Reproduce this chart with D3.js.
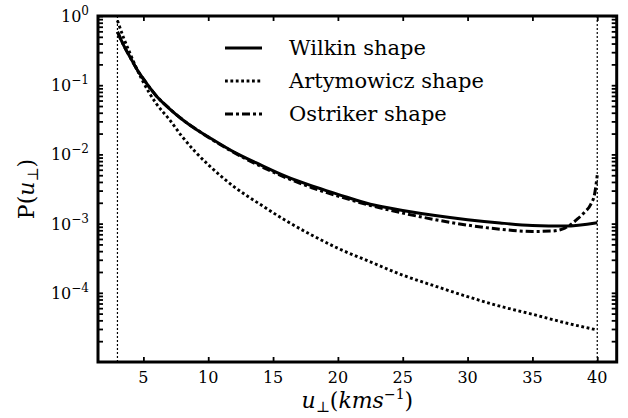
<!DOCTYPE html>
<html>
<head>
<meta charset="utf-8">
<script src="https://cdn.jsdelivr.net/npm/d3@7"></script>
<style>
body { margin: 0; background: #fff; }
text { font-family: "DejaVu Serif", serif; }
</style>
</head>
<body>
<div id="chart"></div>
<script>
// values
const uWilkin = [3, 3.5, 4, 4.5, 5, 6, 7, 8, 9, 10, 12, 14, 16, 18, 20, 22.5, 25, 27.5, 30, 32.5, 35, 37.5, 40]
const pWilkin = [0.59, 0.37, 0.25, 0.17, 0.123, 0.070, 0.046, 0.032, 0.0235, 0.018, 0.0108, 0.0071, 0.0048, 0.0035, 0.00265, 0.00190, 0.00155, 0.00131, 0.00114, 0.00102, 0.00094, 0.00092, 0.00103]

const uArty = [3, 3.5, 4, 4.5, 5, 6, 7, 8, 9, 10, 12, 14, 16, 18, 20, 22.5, 25, 27.5, 30, 32.5, 35, 37.5, 40]
const pArty = [0.86, 0.47, 0.28, 0.17, 0.11, 0.054, 0.032, 0.018, 0.0109, 0.0071, 0.0034, 0.0019, 0.0011, 0.00068, 0.00044, 0.00028, 0.00018, 0.000125, 0.000088, 0.000064, 0.000049, 0.000037, 0.000029]

const uOstr = [3, 3.5, 4, 4.5, 5, 6, 7, 8, 9, 10, 12, 14, 16, 18, 20, 22.5, 25, 27.5, 30, 32.5, 35, 36.5, 37.5, 38.5, 39, 39.5, 39.8, 40]
const pOstr = [0.59, 0.37, 0.25, 0.17, 0.123, 0.070, 0.046, 0.032, 0.0235, 0.0177, 0.0106, 0.0068, 0.0046, 0.0033, 0.0025, 0.00183, 0.00142, 0.00114, 0.00095, 0.00083, 0.00077, 0.00078, 0.00086, 0.00118, 0.00145, 0.0019, 0.0027, 0.0050]

const vLines = [3, 40]
const xTicks = [5, 10, 15, 20, 25, 30, 35, 40]
const yDecades = [0, -1, -2, -3, -4]
const legendNames = ['Wilkin shape', 'Artymowicz shape', 'Ostriker shape']

const width = 628
const height = 418
const margin = {top: 16, left: 98, right: 11.3, bottom: 56}
const plotW = width - margin.left - margin.right
const plotH = height - margin.top - margin.bottom

const svg = d3.select('#chart').append('svg')
  .attr('width', width)
  .attr('height', height)

const g = svg.append('g').attr('transform', `translate(${margin.left},${margin.top})`)

const x = d3.scaleLinear().domain([1.5, 41.5]).range([0, plotW])
const y = d3.scaleLog().domain([1e-5, 1]).range([plotH, 0])

const styles = [
  {dash: null, w: 3},
  {dash: '2.8,2.6', w: 2.9},
  {dash: '8,3,3,3', w: 3}
]

const series = [
  uWilkin.map((u, i) => [u, pWilkin[i]]),
  uArty.map((u, i) => [u, pArty[i]]),
  uOstr.map((u, i) => [u, pOstr[i]])
]

g.append('clipPath').attr('id', 'clip')
  .append('rect').attr('width', plotW).attr('height', plotH)

// vertical guide lines
g.selectAll('.vline')
  .data(vLines)
  .enter()
  .append('line')
  .attr('x1', d => x(d)).attr('x2', d => x(d))
  .attr('y1', 0).attr('y2', plotH)
  .attr('stroke', '#000')
  .attr('stroke-width', 1.2)
  .attr('stroke-dasharray', '2,2')

let line = d3.line()
  .x(d => x(d[0]))
  .y(d => y(d[1]))
  .curve(d3.curveMonotoneX)

g.append('g').attr('clip-path', 'url(#clip)')
  .selectAll('path')
  .data(series)
  .enter()
  .append('path')
  .attr('d', line)
  .attr('fill', 'none')
  .attr('stroke', '#000')
  .attr('stroke-width', (d, i) => styles[i].w)
  .attr('stroke-dasharray', (d, i) => styles[i].dash)

// minor ticks for log axis
let minor = []
for (let k = -5; k < 0; k++) {
  for (let m = 2; m <= 9; m++) minor.push(m * Math.pow(10, k))
}
let major = yDecades.map(k => Math.pow(10, k))

let tickStyle = function (sel) {
  sel.select('.domain').remove()
  sel.selectAll('line').attr('stroke', '#000').attr('stroke-width', 1.8)
  sel.selectAll('text').remove()
}

g.append('g').call(d3.axisLeft(y).tickValues(major.concat(minor)).tickSize(-5)).call(tickStyle)
g.append('g').attr('transform', `translate(${plotW},0)`)
  .call(d3.axisRight(y).tickValues(major.concat(minor)).tickSize(-5)).call(tickStyle)
g.append('g').attr('transform', `translate(0,${plotH})`)
  .call(d3.axisBottom(x).tickValues(xTicks).tickSize(-5)).call(tickStyle)
g.append('g').call(d3.axisTop(x).tickValues(xTicks).tickSize(-5)).call(tickStyle)

// frame
g.append('rect')
  .attr('width', plotW).attr('height', plotH)
  .attr('fill', 'none')
  .attr('stroke', '#000')
  .attr('stroke-width', 3)

// x tick labels
g.selectAll('.xlab')
  .data(xTicks)
  .enter()
  .append('text')
  .attr('x', d => x(d))
  .attr('y', plotH + 21)
  .attr('text-anchor', 'middle')
  .style('font-size', '16px')
  .text(d => d)

// y tick labels 10^k
let ylab = g.selectAll('.ylab')
  .data(yDecades)
  .enter()
  .append('text')
  .attr('x', -9)
  .attr('y', d => y(Math.pow(10, d)) + 6)
  .attr('text-anchor', 'end')
  .style('font-size', '16px')
ylab.append('tspan').text('10')
ylab.append('tspan')
  .attr('dy', -7)
  .style('font-size', '12px')
  .text(d => d === 0 ? '0' : '\u2212' + (-d))

// axis titles
let xt = svg.append('text')
  .attr('x', margin.left + plotW / 2)
  .attr('y', 408)
  .attr('text-anchor', 'middle')
  .style('font-size', '22px')
xt.append('tspan').style('font-style', 'italic').text('u')
xt.append('tspan').attr('dy', 4).style('font-size', '15px').text('\u22A5')
xt.append('tspan').attr('dy', -4).text('(')
xt.append('tspan').style('font-style', 'italic').text('kms')
xt.append('tspan').attr('dy', -9).style('font-size', '14px').text('\u22121')
xt.append('tspan').attr('dy', 9).text(')')

let yt = svg.append('text')
  .attr('transform', `translate(34,${margin.top + plotH / 2}) rotate(-90)`)
  .attr('text-anchor', 'middle')
  .style('font-size', '22px')
yt.append('tspan').text('P(')
yt.append('tspan').style('font-style', 'italic').text('u')
yt.append('tspan').attr('dy', 4).style('font-size', '15px').text('\u22A5')
yt.append('tspan').attr('dy', -4).text(')')

// legend
let legend = svg.append('g')
  .selectAll('g')
  .data(legendNames)
  .enter()
  .append('g')
  .attr('transform', (d, i) => `translate(225,${48 + i * 33})`)
legend.append('line')
  .attr('x1', 0).attr('x2', 37)
  .attr('stroke', '#000')
  .attr('stroke-width', (d, i) => styles[i].w)
  .attr('stroke-dasharray', (d, i) => styles[i].dash)
legend.append('text')
  .attr('x', 64)
  .attr('y', 7)
  .style('font-size', '21px')
  .text(d => d)
</script>
</body>
</html>
